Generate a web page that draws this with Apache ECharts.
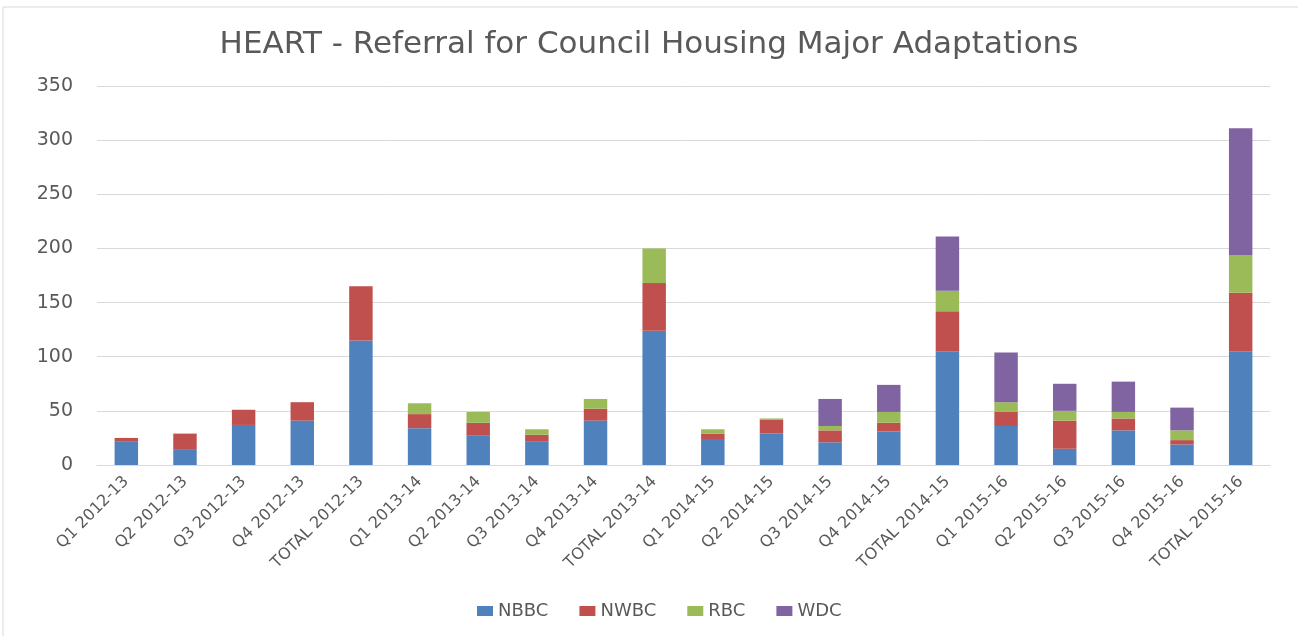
<!DOCTYPE html>
<html>
<head>
<meta charset="utf-8">
<title>HEART - Referral for Council Housing Major Adaptations</title>
<script src="https://cdn.jsdelivr.net/npm/echarts@6/dist/echarts.min.js"></script>
<style>
  html, body { margin: 0; padding: 0; background: #fff; }
  #chart { width: 1298px; height: 636px; }
</style>
</head>
<body>
<div id="chart"></div>
<script>
// categories and series values
const categories = [
  'Q1 2012-13', 'Q2 2012-13', 'Q3 2012-13', 'Q4 2012-13', 'TOTAL 2012-13',
  'Q1 2013-14', 'Q2 2013-14', 'Q3 2013-14', 'Q4 2013-14', 'TOTAL 2013-14',
  'Q1 2014-15', 'Q2 2014-15', 'Q3 2014-15', 'Q4 2014-15', 'TOTAL 2014-15',
  'Q1 2015-16', 'Q2 2015-16', 'Q3 2015-16', 'Q4 2015-16', 'TOTAL 2015-16'
]
const nbbc = [22, 14, 37, 41, 115, 34, 27, 22, 41, 124, 24, 29, 21, 31, 105, 36, 15, 32, 19, 105]
const nwbc = [3, 15, 14, 17, 50, 13, 12, 6, 11, 44, 5, 13, 11, 8, 37, 13, 26, 11, 4, 54]
const rbc = [0, 0, 0, 0, 0, 10, 10, 5, 9, 32, 4, 1, 4, 10, 19, 9, 9, 6, 9, 35]
const wdc = [0, 0, 0, 0, 0, 0, 0, 0, 0, 0, 0, 0, 25, 25, 50, 46, 25, 28, 21, 117]

const textColor = '#595959'
const font = 'DejaVu Sans'

const chart = echarts.init(document.getElementById('chart'))

function bar (name, data) {
  return {
    name: name,
    type: 'bar',
    stack: 'total',
    barWidth: '40%',
    data: data
  }
}

const option = {
  color: ['#4F81BD', '#C0504D', '#9BBB59', '#8064A2'],
  animation: false,
  title: {
    text: 'HEART - Referral for Council Housing Major Adaptations',
    left: 'center',
    top: 24,
    textStyle: {
      color: textColor,
      fontFamily: font,
      fontSize: 31,
      fontWeight: 'normal'
    }
  },
  // outer chart frame
  graphic: [{
    type: 'rect',
    shape: { x: 3, y: 7, width: 1320, height: 660 },
    style: { fill: 'none', stroke: '#d9d9d9', lineWidth: 1 },
    silent: true
  }],
  legend: {
    top: 597,
    left: 472,
    itemWidth: 16,
    itemHeight: 10,
    itemGap: 31,
    icon: 'rect',
    textStyle: { color: textColor, fontFamily: font, fontSize: 18 },
    data: ['NBBC', 'NWBC', 'RBC', 'WDC']
  },
  grid: {
    left: 97,
    right: 28,
    top: 86,
    bottom: 171
  },
  xAxis: {
    type: 'category',
    data: categories,
    axisTick: { show: false },
    axisLine: { lineStyle: { color: '#d9d9d9' } },
    axisLabel: {
      rotate: 45,
      interval: 0,
      margin: 14,
      color: textColor,
      fontFamily: font,
      fontSize: 16
    }
  },
  yAxis: {
    type: 'value',
    min: 0,
    max: 350,
    interval: 50,
    axisLine: { show: false },
    axisTick: { show: false },
    axisLabel: {
      margin: 24,
      color: textColor,
      fontFamily: font,
      fontSize: 19
    },
    splitLine: { lineStyle: { color: '#d9d9d9' } }
  },
  series: [
    bar('NBBC', nbbc),
    bar('NWBC', nwbc),
    bar('RBC', rbc),
    bar('WDC', wdc)
  ]
}

chart.setOption(option)
</script>
</body>
</html>
